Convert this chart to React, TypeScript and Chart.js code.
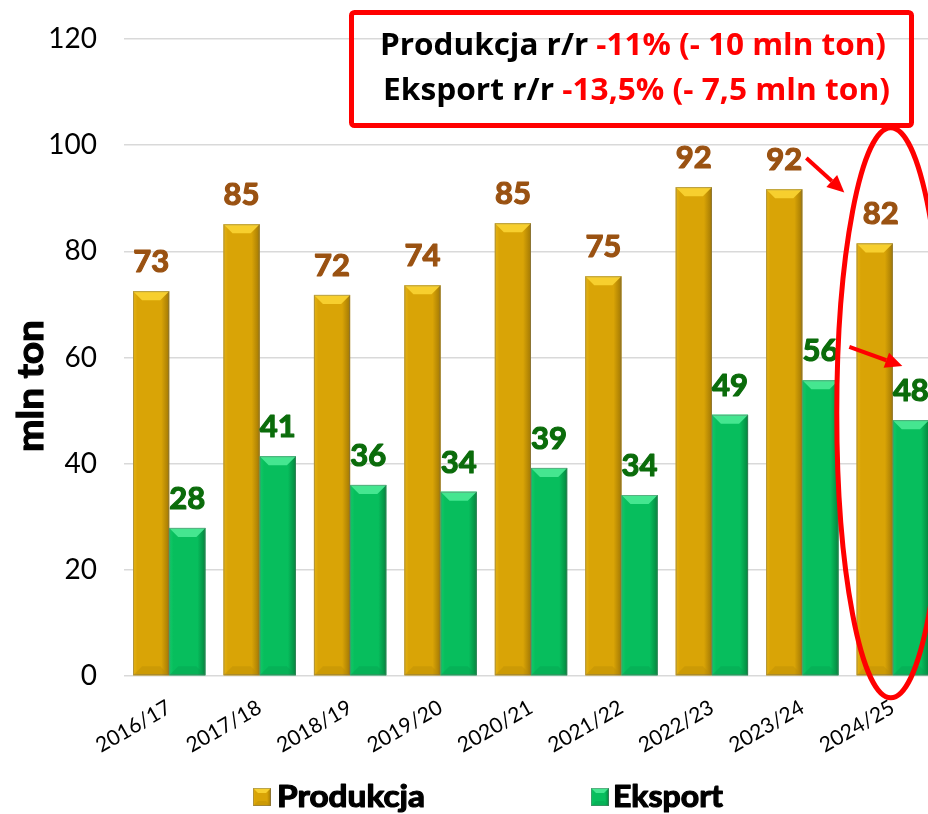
import React, { useEffect, useRef } from "react";
import { Chart, registerables } from "chart.js";

Chart.register(...registerables);

// ---------- data ----------
const categories = ["2016/17", "2017/18", "2018/19", "2019/20", "2020/21", "2021/22", "2022/23", "2023/24", "2024/25"];
const produkcja = [72.5, 85.1, 71.8, 73.6, 85.3, 75.3, 92.1, 91.7, 81.5];
const eksport = [27.9, 41.4, 36.0, 34.7, 39.2, 34.1, 49.2, 55.7, 48.2];
const produkcjaLabels = ["73", "85", "72", "74", "85", "75", "92", "92", "82"];
const eksportLabels = ["28", "41", "36", "34", "39", "34", "49", "56", "48"];
const seriesNames = ["Produkcja", "Eksport"];
const yMin = 0;
const yMax = 120;
const yStep = 20;
const yAxisTitle = "mln ton";
const noteLine1 = ["Produkcja r/r ", "-11% (- 10 mln ton)"];
const noteLine2 = ["Eksport r/r ", "-13,5% (- 7,5 mln ton)"];

// ---------- styles ----------
const GOLD = { main: "#D9A406", light: "#F7CF2E", left: "#E6B414", dark: "#A27804", bottom: "#B98B05" };
const GREEN = { main: "#07BE5D", light: "#45E690", left: "#12CA68", dark: "#04853E", bottom: "#06A04F" };
const PROD_LABEL = "#9A5212";
const EXP_LABEL = "#0B6C0B";
const RED = "#FF0000";

function drawBevelBar(ctx: CanvasRenderingContext2D, x0: number, x1: number, top: number, bottom: number, pal: any, bevel = 9) {
  const w = x1 - x0;
  const h = bottom - top;
  if (h <= 0) return;
  const b = Math.min(bevel, w / 2, h / 2);
  ctx.save();
  const g = ctx.createLinearGradient(x0, 0, x1, 0);
  g.addColorStop(0, pal.left);
  g.addColorStop(0.12, pal.main);
  g.addColorStop(0.78, pal.main);
  g.addColorStop(1, pal.dark);
  ctx.fillStyle = g;
  ctx.fillRect(x0, top, w, h);
  // top facet
  ctx.fillStyle = pal.light;
  ctx.beginPath();
  ctx.moveTo(x0, top);
  ctx.lineTo(x1, top);
  ctx.lineTo(x1 - b, top + b);
  ctx.lineTo(x0 + b, top + b);
  ctx.closePath();
  ctx.fill();
  // bottom facet
  ctx.globalAlpha = 0.4;
  ctx.fillStyle = pal.bottom;
  ctx.beginPath();
  ctx.moveTo(x0, bottom);
  ctx.lineTo(x1, bottom);
  ctx.lineTo(x1 - b, bottom - b);
  ctx.lineTo(x0 + b, bottom - b);
  ctx.closePath();
  ctx.fill();
  ctx.globalAlpha = 1;
  ctx.strokeStyle = "rgba(110,110,110,0.45)";
  ctx.lineWidth = 1;
  ctx.strokeRect(x0 + 0.5, top + 0.5, w - 1, h - 1);
  ctx.restore();
}

function fillFitted(ctx: CanvasRenderingContext2D, parts: string[], colors: string[], x: number, y: number, width: number, heavy = 0) {
  const widths = parts.map((p) => ctx.measureText(p).width);
  const total = widths.reduce((a, c) => a + c, 0);
  const s = width / total;
  ctx.save();
  ctx.translate(x, y);
  ctx.scale(s, 1);
  let cx = 0;
  parts.forEach((p, i) => {
    ctx.fillStyle = colors[i];
    ctx.textAlign = "left";
    ctx.fillText(p, cx, 0);
    if (heavy > 0) {
      ctx.strokeStyle = colors[i];
      ctx.lineWidth = heavy;
      ctx.lineJoin = "round";
      ctx.strokeText(p, cx, 0);
    }
    cx += widths[i];
  });
  ctx.restore();
}

function arrow(ctx: CanvasRenderingContext2D, x1: number, y1: number, x2: number, y2: number) {
  const ang = Math.atan2(y2 - y1, x2 - x1);
  const hl = 17;
  const hw = 8;
  const bx = x2 - hl * Math.cos(ang);
  const by = y2 - hl * Math.sin(ang);
  ctx.save();
  ctx.strokeStyle = RED;
  ctx.fillStyle = RED;
  ctx.lineWidth = 4;
  ctx.beginPath();
  ctx.moveTo(x1, y1);
  ctx.lineTo(bx, by);
  ctx.stroke();
  ctx.beginPath();
  ctx.moveTo(x2, y2);
  ctx.lineTo(bx + hw * Math.sin(ang), by - hw * Math.cos(ang));
  ctx.lineTo(bx - hw * Math.sin(ang), by + hw * Math.cos(ang));
  ctx.closePath();
  ctx.fill();
  ctx.restore();
}

const customPlugin = {
  id: "custom",
  afterDatasetsDraw(chart: any) {
    const ctx: CanvasRenderingContext2D = chart.ctx;
    const xs = chart.scales.x;
    const ys = chart.scales.y;
    const pals = [GOLD, GREEN];
    const labelSets = [produkcjaLabels, eksportLabels];
    const labelColors = [PROD_LABEL, EXP_LABEL];
    // bars with bevel
    [0, 1].forEach((di) => {
      const meta = chart.getDatasetMeta(di);
      meta.data.forEach((el: any) => {
        const half = el.width / 2;
        drawBevelBar(ctx, el.x - half, el.x + half, el.y, el.base, pals[di]);
      });
    });
    // value labels
    ctx.save();
    ctx.font = "bold 31px Lato";
    ctx.textAlign = "center";
    ctx.textBaseline = "alphabetic";
    ctx.lineJoin = "round";
    [0, 1].forEach((di) => {
      const meta = chart.getDatasetMeta(di);
      meta.data.forEach((el: any, i: number) => {
        ctx.fillStyle = labelColors[di];
        ctx.strokeStyle = labelColors[di];
        ctx.lineWidth = 1.2;
        let dx = 0;
        if (di === 0 && i === categories.length - 1) dx = 6;
        ctx.fillText(labelSets[di][i], el.x + dx, el.y - 19);
        ctx.strokeText(labelSets[di][i], el.x + dx, el.y - 19);
      });
    });
    ctx.restore();

    // y axis title
    ctx.save();
    ctx.font = "bold 37px Lato";
    ctx.fillStyle = "#000";
    ctx.strokeStyle = "#000";
    ctx.lineWidth = 1.2;
    ctx.translate(43, 386);
    ctx.rotate(-Math.PI / 2);
    const tw = ctx.measureText(yAxisTitle).width;
    ctx.scale(132 / tw, 1);
    ctx.textAlign = "center";
    ctx.fillText(yAxisTitle, 0, 0);
    ctx.strokeText(yAxisTitle, 0, 0);
    ctx.restore();

    // annotation box
    ctx.save();
    ctx.strokeStyle = RED;
    ctx.lineWidth = 5;
    ctx.beginPath();
    (ctx as any).roundRect ? (ctx as any).roundRect(351.5, 12.5, 560, 113, 3) : ctx.rect(351.5, 12.5, 560, 113);
    ctx.stroke();
    ctx.font = "bold 31px 'Open Sans'";
    ctx.textBaseline = "alphabetic";
    fillFitted(ctx, noteLine1, ["#000", RED], 380, 55, 506);
    fillFitted(ctx, noteLine2, ["#000", RED], 383, 100, 507);
    ctx.restore();

    // ellipse around last category
    const lastX = xs.getPixelForValue(categories.length - 1);
    const eTop = ys.getPixelForValue(103.3);
    const eBot = ys.getPixelForValue(-4.1);
    ctx.save();
    ctx.strokeStyle = RED;
    ctx.lineWidth = 5;
    ctx.beginPath();
    ctx.ellipse(lastX - 2, (eTop + eBot) / 2, 54, (eBot - eTop) / 2, 0, 0, Math.PI * 2);
    ctx.stroke();
    ctx.restore();

    // arrows
    const prevX = xs.getPixelForValue(categories.length - 2);
    arrow(ctx, prevX + 4, ys.getPixelForValue(97.6), prevX + 42, ys.getPixelForValue(91.1));
    arrow(ctx, prevX + 47, ys.getPixelForValue(62.0), prevX + 100, ys.getPixelForValue(58.4));

    // legend
    const legendItems = [
      { x: 253, tx: 277, tw: 148, pal: GOLD, name: seriesNames[0] },
      { x: 591, tx: 613, tw: 110, pal: GREEN, name: seriesNames[1] },
    ];
    ctx.save();
    legendItems.forEach((it) => {
      drawBevelBar(ctx, it.x, it.x + 18, 788, 806, it.pal, 5);
      ctx.font = "bold 31px Lato";
      ctx.textBaseline = "alphabetic";
      fillFitted(ctx, [it.name], ["#000"], it.tx, 807, it.tw, 1.2);
    });
    ctx.restore();
  },
};

export default function App() {
  const ref = useRef<HTMLCanvasElement | null>(null);
  useEffect(() => {
    if (!ref.current) return;
    const chart = new Chart(ref.current, {
      type: "bar",
      data: {
        labels: categories,
        datasets: [
          { label: seriesNames[0], data: produkcja, backgroundColor: GOLD.main, borderWidth: 0, categoryPercentage: 0.8, barPercentage: 1.0 },
          { label: seriesNames[1], data: eksport, backgroundColor: GREEN.main, borderWidth: 0, categoryPercentage: 0.8, barPercentage: 1.0 },
        ],
      },
      options: {
        responsive: false,
        animation: false,
        layout: { padding: { top: 0, right: 2, left: 0, bottom: 0 } },
        plugins: { legend: { display: false }, tooltip: { enabled: false } },
        scales: {
          x: {
            grid: { display: false },
            border: { display: false },
            ticks: {
              font: { family: "Lato", size: 21 },
              color: "#000",
              minRotation: 30,
              maxRotation: 30,
              padding: 11,
            },
            afterFit: (s: any) => {
              s.height = 138;
            },
          },
          y: {
            min: yMin,
            max: yMax,
            ticks: { stepSize: yStep, padding: 27, font: { family: "Lato", size: 28, lineHeight: 0.86 }, color: "#000" },
            grid: { color: "#D9D9D9", lineWidth: 1.5, drawTicks: false },
            border: { display: false },
            afterFit: (s: any) => {
              s.width = 124;
            },
          },
        },
      },
      plugins: [customPlugin],
    } as any);
    return () => chart.destroy();
  }, []);
  return (
    <div style={{ position: "fixed", left: 0, top: 0, width: 928, height: 814, overflow: "hidden", background: "#fff" }}>
      <canvas ref={ref} width={940} height={814} style={{ display: "block" }} />
    </div>
  );
}
